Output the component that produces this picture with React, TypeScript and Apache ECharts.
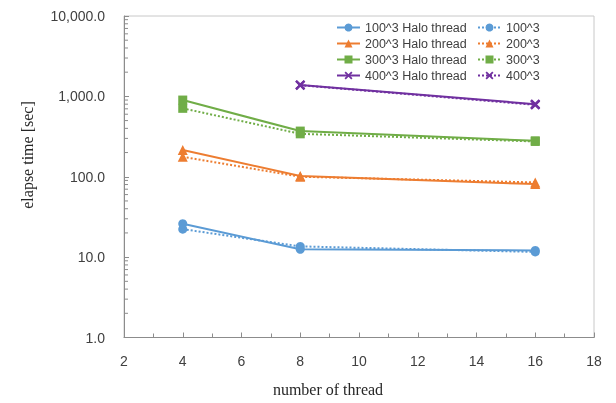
import React, { useEffect, useRef } from "react";
import * as echarts from "echarts";

const threads = [4, 8, 16];
const threads400 = [8, 16];
const halo100 = [26, 12.5, 12.1];
const plain100 = [22.3, 13.6, 11.6];
const halo200 = [215, 102, 81];
const plain200 = [177, 100, 85];
const halo300 = [900, 370, 280];
const plain300 = [710, 342, 275];
const halo400 = [1390, 800];
const plain400 = [1380, 785];

const yTicks = [1, 10, 100, 1000, 10000];
const xTicks = [2, 18];

const BLUE = "#5b9bd5";
const ORANGE = "#ed7d31";
const GREEN = "#70ad47";
const PURPLE = "#7030a0";
const CROSS =
  "path://M0,1.6 L1.6,0 L5,3.4 L8.4,0 L10,1.6 L6.6,5 L10,8.4 L8.4,10 L5,6.6 L1.6,10 L0,8.4 L3.4,5 Z";

const pair = (xs: number[], ys: number[]) => xs.map((x, i) => [x, ys[i]]);

export default function App() {
  const ref = useRef<HTMLDivElement>(null);
  useEffect(() => {
    const chart = echarts.init(ref.current!, null, { renderer: "svg" });
    const mk = (
      name: string,
      xs: number[],
      ys: number[],
      color: string,
      symbol: string,
      size: number,
      dotted: boolean
    ) => ({
      name,
      type: "line",
      data: pair(xs, ys),
      symbol,
      symbolSize: size,
      lineStyle: { color, width: 2, type: dotted ? "dotted" : "solid" },
      itemStyle: { color },
      z: dotted ? 3 : 4,
    });
    const minorVals: number[][] = [];
    for (let d = 1; d < 10000; d *= 10) {
      for (let m = 2; m <= 9; m++) minorVals.push([xTicks[0], m * d]);
    }
    const labelStyle = {
      color: "#404040",
      fontSize: 12.5,
      fontFamily: "Liberation Sans",
    };
    chart.setOption({
      animation: false,
      grid: {
        left: 124,
        right: 22,
        top: 16,
        bottom: 65.5,
        show: true,
        borderColor: "#c8c8c8",
        borderWidth: 1,
      },
      legend: [
        {
          orient: "vertical",
          left: 331,
          top: 16,
          itemWidth: 23,
          itemHeight: 10,
          itemGap: 3,
          textStyle: labelStyle,
          data: [
            "100^3 Halo thread",
            "200^3 Halo thread",
            "300^3 Halo thread",
            "400^3 Halo thread",
          ],
        },
        {
          orient: "vertical",
          left: 472,
          top: 16,
          itemWidth: 23,
          itemHeight: 10,
          itemGap: 3,
          textStyle: labelStyle,
          data: ["100^3", "200^3", "300^3", "400^3"],
        },
      ],
      xAxis: {
        type: "value",
        min: xTicks[0],
        max: xTicks[1],
        interval: 2,
        axisLine: { lineStyle: { color: "#8c8c8c" } },
        axisTick: { inside: true, length: 5, lineStyle: { color: "#8c8c8c" } },
        minorTick: {
          show: true,
          splitNumber: 2,
          length: 4,
          lineStyle: { color: "#8c8c8c" },
        },
        splitLine: { show: false },
        axisLabel: {
          color: "#404040",
          fontSize: 14,
          fontFamily: "Liberation Sans",
          margin: 16,
        },
      },
      yAxis: {
        type: "log",
        logBase: 10,
        min: yTicks[0],
        max: yTicks[yTicks.length - 1],
        axisLine: { show: true, lineStyle: { color: "#8c8c8c" } },
        axisTick: { show: true, inside: true, length: 5, lineStyle: { color: "#8c8c8c" } },
        splitLine: { show: false },
        axisLabel: {
          color: "#404040",
          fontSize: 14,
          fontFamily: "Liberation Sans",
          margin: 19,
          formatter: (v: number) =>
            v.toLocaleString("en-US", {
              minimumFractionDigits: 1,
              maximumFractionDigits: 1,
            }),
        },
      },
      graphic: [
        {
          type: "text",
          x: 27,
          y: 155,
          rotation: Math.PI / 2,
          style: {
            text: "elapse time [sec]",
            font: "16px 'Liberation Serif'",
            fill: "#262626",
            align: "center",
            verticalAlign: "middle",
          },
        },
        {
          type: "text",
          x: 328,
          y: 389,
          style: {
            text: "number of thread",
            font: "16px 'Liberation Serif'",
            fill: "#262626",
            align: "center",
            verticalAlign: "middle",
          },
        },
      ],
      series: [
        mk("100^3 Halo thread", threads, halo100, BLUE, "circle", 9, false),
        mk("200^3 Halo thread", threads, halo200, ORANGE, "triangle", 10, false),
        mk("300^3 Halo thread", threads, halo300, GREEN, "rect", 9, false),
        mk("400^3 Halo thread", threads400, halo400, PURPLE, CROSS, 10, false),
        mk("100^3", threads, plain100, BLUE, "circle", 9, true),
        mk("200^3", threads, plain200, ORANGE, "triangle", 10, true),
        mk("300^3", threads, plain300, GREEN, "rect", 9, true),
        mk("400^3", threads400, plain400, PURPLE, CROSS, 10, true),
        {
          name: "minorTicks",
          type: "custom",
          silent: true,
          clip: false,
          data: minorVals,
          renderItem: (_p: any, api: any) => {
            const pt = api.coord([api.value(0), api.value(1)]);
            return {
              type: "line",
              shape: { x1: pt[0], y1: pt[1], x2: pt[0] + 4, y2: pt[1] },
              style: { stroke: "#8c8c8c", lineWidth: 1 },
            };
          },
          z: 1,
        },
      ],
    });
    return () => chart.dispose();
  }, []);
  return (
    <div
      ref={ref}
      style={{ position: "fixed", left: 0, top: 0, width: 616, height: 403 }}
    />
  );
}
